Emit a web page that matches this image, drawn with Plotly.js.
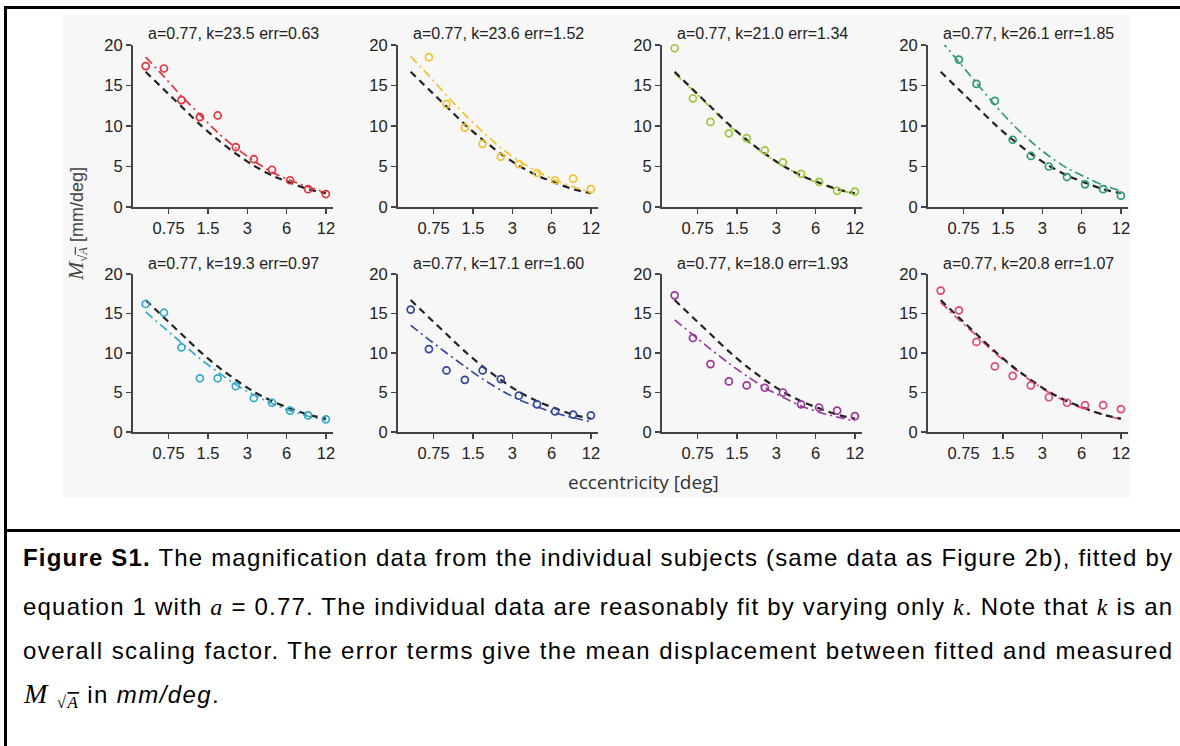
<!DOCTYPE html>
<html>
<head>
<meta charset="utf-8">
<script src="https://cdn.plot.ly/plotly-3.0.1.min.js"></script>
<style>
  html, body { margin: 0; padding: 0; background: #ffffff; }
  #chart { width: 1180px; height: 746px; }
</style>
</head>
<body>
<div id="chart"></div>
<script>
// ---------------- data ----------------
const eccentricity = [0.5, 0.69, 0.94, 1.30, 1.78, 2.45, 3.37, 4.64, 6.38, 8.77, 12.0];
const xTickVals = [0.75, 1.5, 3, 6, 12];
const xTickText = ['0.75', '1.5', '3', '6', '12'];
const yTickVals = [0, 5, 10, 15, 20];

const aValue = '0.77';
const kValues = ['23.5', '23.6', '21.0', '26.1', '19.3', '17.1', '18.0', '20.8'];
const errValues = ['0.63', '1.52', '1.34', '1.85', '0.97', '1.60', '1.93', '1.07'];

const subj1 = [17.4, 17.1, 13.2, 11.1, 11.3, 7.4, 5.9, 4.6, 3.3, 2.2, 1.6];
const subj2 = [null, 18.5, 12.7, 9.8, 7.8, 6.2, 5.3, 4.2, 3.3, 3.5, 2.2];
const subj3 = [19.6, 13.4, 10.5, 9.1, 8.5, 7.0, 5.5, 4.1, 3.1, 2.0, 1.9];
const subj4 = [null, 18.2, 15.2, 13.1, 8.3, 6.3, 5.0, 3.7, 2.8, 2.2, 1.4];
const subj5 = [16.2, 15.1, 10.7, 6.8, 6.8, 5.8, 4.3, 3.7, 2.7, 2.1, 1.6];
const subj6 = [15.5, 10.5, 7.8, 6.6, 7.8, 6.7, 4.6, 3.5, 2.6, 2.2, 2.1];
const subj7 = [17.3, 11.9, 8.6, 6.4, 5.9, 5.6, 5.0, 3.5, 3.1, 2.7, 2.0];
const subj8 = [17.9, 15.4, 11.4, 8.3, 7.1, 5.9, 4.4, 3.7, 3.4, 3.4, 2.9];

// individual fits
const fit1 = [18.5, 16.1, 13.7, 11.4, 9.2, 7.3, 5.7, 4.3, 3.3, 2.5, 1.8];
const fit2 = [18.6, 16.2, 13.8, 11.4, 9.3, 7.3, 5.7, 4.4, 3.3, 2.5, 1.8];
const fit3 = [16.5, 14.4, 12.3, 10.1, 8.2, 6.5, 5.1, 3.9, 2.9, 2.2, 1.6];
const fit4 = [20.6, 17.9, 15.3, 12.6, 10.2, 8.1, 6.3, 4.8, 3.7, 2.7, 2.0];
const fit5 = [15.2, 13.2, 11.3, 9.3, 7.6, 6.0, 4.7, 3.6, 2.7, 2.0, 1.5];
const fit6 = [13.5, 11.7, 10.0, 8.3, 6.7, 5.3, 4.1, 3.2, 2.4, 1.8, 1.3];
const fit7 = [14.2, 12.3, 10.5, 8.7, 7.1, 5.6, 4.4, 3.3, 2.5, 1.9, 1.4];
const fit8 = [16.4, 14.2, 12.2, 10.0, 8.2, 6.5, 5.0, 3.8, 2.9, 2.2, 1.6];

// group fit (black dashed curve, identical in every panel)
const groupFit = [16.7, 14.5, 12.4, 10.2, 8.3, 6.6, 5.1, 3.9, 3.0, 2.2, 1.7];

const subjects = [subj1, subj2, subj3, subj4, subj5, subj6, subj7, subj8];
const fits = [fit1, fit2, fit3, fit4, fit5, fit6, fit7, fit8];
const colors = ['#e2323c', '#f2c230', '#9cc83a', '#2e9a76', '#33a9c9', '#33479a', '#9a3597', '#e2457e'];

// ---------------- layout helpers ----------------
const W = 1180, H = 746;
const px = v => v / W;
const py = v => 1 - v / H;
const colLeft = [133, 398, 662, 928];
const plotW = 200;
const rows = [[45, 207], [274, 432]];
const titleY = [33, 263];

const traces = [];
const layout = {
  width: W, height: H,
  margin: {l: 0, r: 0, t: 0, b: 0},
  paper_bgcolor: '#ffffff',
  plot_bgcolor: 'rgba(0,0,0,0)',
  showlegend: false,
  font: {family: 'Liberation Sans, Arial, sans-serif', color: '#222'},
  annotations: [],
  shapes: []
};

for (let i = 0; i < 8; i++) {
  const r = Math.floor(i / 4), c = i % 4;
  const n = i + 1;
  const xa = 'x' + (n === 1 ? '' : n), ya = 'y' + (n === 1 ? '' : n);
  const xkey = 'xaxis' + (n === 1 ? '' : n), ykey = 'yaxis' + (n === 1 ? '' : n);
  layout[xkey] = {
    type: 'log',
    range: [Math.log10(0.4), Math.log10(13.6)],
    domain: [px(colLeft[c]), px(colLeft[c] + plotW)],
    anchor: ya,
    tickvals: xTickVals, ticktext: xTickText,
    ticks: 'outside', ticklen: 5, tickwidth: 1.5, tickcolor: '#444',
    showline: true, linecolor: '#444', linewidth: 2,
    showgrid: false, zeroline: false,
    tickfont: {size: 16.5, color: '#222'},
    fixedrange: true
  };
  layout[ykey] = {
    range: [0, 20],
    domain: [py(rows[r][1]), py(rows[r][0])],
    anchor: xa,
    tickvals: yTickVals,
    ticks: 'outside', ticklen: 5, tickwidth: 1.5, tickcolor: '#444',
    showline: true, linecolor: '#444', linewidth: 2,
    showgrid: false, zeroline: false,
    tickfont: {size: 16.5, color: '#222'},
    fixedrange: true
  };
  traces.push({
    x: eccentricity, y: fits[i], xaxis: xa, yaxis: ya,
    mode: 'lines', line: {color: colors[i], width: 1.7, dash: '9px,4px,2px,4px', shape: 'spline', smoothing: 0.8},
    hoverinfo: 'skip'
  });
  traces.push({
    x: eccentricity, y: groupFit, xaxis: xa, yaxis: ya,
    mode: 'lines', line: {color: '#222', width: 2.2, dash: '7px,5px', shape: 'spline', smoothing: 0.8},
    hoverinfo: 'skip'
  });
  traces.push({
    x: eccentricity, y: subjects[i], xaxis: xa, yaxis: ya,
    mode: 'markers',
    marker: {symbol: 'circle-open', size: 7, color: colors[i], line: {width: 1.7, color: colors[i]}},
    cliponaxis: false
  });
  layout.annotations.push({
    xref: 'paper', yref: 'paper',
    x: px(colLeft[c] + plotW / 2), y: py(titleY[r]),
    xanchor: 'center', yanchor: 'middle',
    text: 'a=' + aValue + ', k=' + kValues[i] + ' err=' + errValues[i],
    showarrow: false, font: {size: 16, color: '#222'}
  });
}

layout.shapes.push({type: 'rect', xref: 'paper', yref: 'paper', layer: 'below',
  x0: px(63), x1: px(1130), y0: py(497), y1: py(15), fillcolor: '#f7f7f7', line: {width: 0}});
layout.shapes.push({type: 'rect', xref: 'paper', yref: 'paper', layer: 'above',
  x0: px(5.5), x1: px(1183), y0: py(752), y1: py(7.5), line: {color: '#000', width: 3}});
layout.shapes.push({type: 'line', xref: 'paper', yref: 'paper', layer: 'above',
  x0: px(5.5), x1: px(1183), y0: py(530.5), y1: py(530.5), line: {color: '#000', width: 3}});

const serifI = 'font-family:Liberation Serif, Times New Roman, serif;font-style:italic';
layout.annotations.push({
  xref: 'paper', yref: 'paper', x: px(77), y: py(224), xanchor: 'center', yanchor: 'middle',
  textangle: -90, showarrow: false,
  text: '<span style="' + serifI + ';font-size:22px">M</span><sub><span style="font-family:Liberation Serif, serif">√<span style="text-decoration:overline;font-style:italic">A</span></span></sub> [mm/deg]',
  font: {size: 18, color: '#444'}
});
layout.annotations.push({
  xref: 'paper', yref: 'paper', x: px(643), y: py(482), xanchor: 'center', yanchor: 'middle',
  showarrow: false, text: 'eccentricity [deg]',
  font: {size: 19, color: '#333', family: 'Open Sans, Liberation Sans, sans-serif'}
});

// caption
const capLines = [
  '<b>Figure S1.</b> The magnification data from the individual subjects (same data as Figure 2b), fitted by',
  'equation 1 with <span style="' + serifI + '">a</span> = 0.77. The individual data are reasonably fit by varying only <span style="' + serifI + '">k</span>. Note that <span style="' + serifI + '">k</span> is an',
  'overall scaling factor. The error terms give the mean displacement between fitted and measured',
  '<span style="' + serifI + ';font-size:28px">M</span> <sub><span style="font-family:Liberation Serif, serif">√<span style="text-decoration:overline;font-style:italic">A</span></span></sub> in <i>mm/deg</i>.'
];
const capY = [557, 606, 650, 695];
const capStart = layout.annotations.length;
capLines.forEach((t, j) => {
  layout.annotations.push({
    xref: 'paper', yref: 'paper', x: px(21), y: py(capY[j]), xanchor: 'left', yanchor: 'middle',
    showarrow: false, text: t, font: {size: 24, color: '#000'}
  });
});

Plotly.newPlot('chart', traces, layout, {displayModeBar: false, staticPlot: true}).then(gd => {
  // stretch/justify the first three caption lines to the right edge, as in the original
  const target = 1170 - 21;
  const upd = {};
  let lastLS = 0;
  for (let j = 0; j < 3; j++) {
    const idx = capStart + j;
    const el = gd.querySelector('.annotation[data-index="' + idx + '"] .annotation-text');
    if (!el) continue;
    const w = el.getBBox().width;
    const nChars = capLines[j].replace(/<[^>]*>/g, '').length;
    const ls = (target - w) / Math.max(1, nChars - 1);
    if (ls > -2 && ls < 4) {
      lastLS = ls;
      upd['annotations[' + idx + '].text'] = '<span style="letter-spacing:' + ls.toFixed(3) + 'px">' + capLines[j] + '</span>';
    }
  }
  if (lastLS > 0) {
    upd['annotations[' + (capStart + 3) + '].text'] = '<span style="letter-spacing:' + lastLS.toFixed(3) + 'px">' + capLines[3] + '</span>';
  }
  if (Object.keys(upd).length) Plotly.relayout(gd, upd);
});
</script>
</body>
</html>
